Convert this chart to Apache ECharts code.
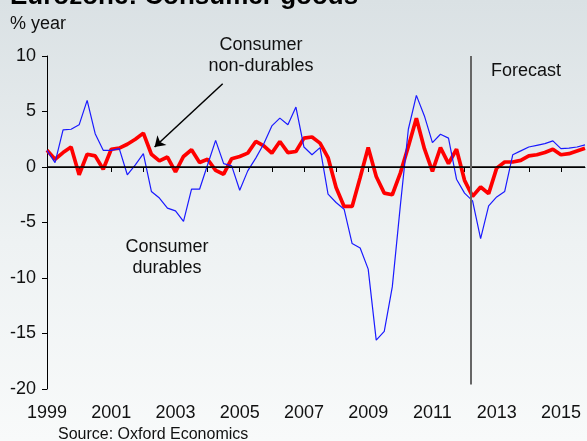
<!DOCTYPE html>
<html>
<head>
<meta charset="utf-8">
<script src="https://cdn.jsdelivr.net/npm/echarts@6/dist/echarts.min.js"></script>
<style>
  html, body { margin: 0; padding: 0; }
  body { background: linear-gradient(to bottom, #dae1e4 0%, #eef2f3 55%, #f8fafa 100%); }
  #chart { width: 587px; height: 441px; }
</style>
</head>
<body>
<div id="chart"></div>
<script>
// quarterly series, 1999Q1 .. 2015Q4 (% year)
var startYear = 1999;
var durables = [
  1.5, 0.4, 3.35, 3.4, 3.8, 6.0, 3.0, 1.5,
  1.5, 1.65, -0.7, 0.2, 1.2, -2.2, -2.8, -3.7,
  -3.95, -4.9, -2.0, -2.0, 0.2, 2.4, 0.3, 0.1,
  -2.1, -0.35, 0.8, 2.1, 3.7, 4.4, 3.8, 5.4,
  1.8, 1.1, 1.75, -2.45, -3.2, -3.8, -6.9, -7.3,
  -9.2, -15.6, -14.8, -10.8, -3.5, 3.4, 6.45, 4.6,
  2.2, 2.95, 2.6, -1.1, -2.35, -3.05, -6.45, -3.5,
  -2.7, -2.2, 1.1, 1.45, 1.8, 1.95, 2.1, 2.35,
  1.65, 1.7, 1.8, 2.0
];
var nonDurables = [
  1.5, 0.7, 1.3, 1.8, -0.7, 1.15, 1.0, -0.2,
  1.6, 1.7, 2.05, 2.5, 3.05, 1.15, 0.55, 0.9,
  -0.45, 0.95, 1.55, 0.4, 0.7, -0.3, -0.65, 0.75,
  0.95, 1.25, 2.3, 1.9, 1.25, 2.3, 1.3, 1.4,
  2.6, 2.7, 2.15, 0.85, -1.85, -3.55, -3.55, -0.95,
  1.75, -0.85, -2.35, -2.5, -0.55, 1.85, 4.4, 1.65,
  -0.4, 1.75, 0.3, 1.6, -1.2, -2.65, -1.8, -2.4,
  -0.1, 0.45, 0.45, 0.6, 1.0, 1.1, 1.3, 1.6,
  1.1, 1.2, 1.45, 1.7
];
var forecastStart = 2012.2;
var yTicks = { min: -20, max: 10, step: 5 };

function toPoints(arr) {
  return arr.map(function (v, i) { return [startYear + i / 4, v]; });
}

var chart = echarts.init(document.getElementById('chart'));
var font = 'Liberation Sans, Arial, sans-serif';

var option = {
  animation: false,
  backgroundColor: 'transparent',
  textStyle: { fontFamily: font, color: '#111' },
  grid: { left: 47, right: 2, top: 56, bottom: 52 },
  xAxis: {
    type: 'value',
    min: startYear,
    max: startYear + (durables.length - 1) / 4,
    interval: 1,
    axisLine: { lineStyle: { color: '#000', width: 1 } },
    axisTick: { show: true, length: 5, lineStyle: { color: '#000' } },
    splitLine: { show: false },
    axisLabel: {
      fontSize: 18, color: '#111', margin: 15, showMaxLabel: false,
      formatter: function (v) { return (Number.isInteger(v) && v % 2 === 1) ? String(v) : ''; }
    }
  },
  yAxis: {
    type: 'value',
    min: yTicks.min, max: yTicks.max, interval: yTicks.step,
    axisLine: { show: true, lineStyle: { color: '#000', width: 1 } },
    axisTick: { show: true, length: 5, lineStyle: { color: '#000' } },
    splitLine: { show: false },
    axisLabel: { fontSize: 18, color: '#111', margin: 11 }
  },
  graphic: [
    { type: 'text', x: 10, y: -16, style: { text: 'Eurozone: Consumer goods', font: 'bold 26px ' + font, fill: '#000' } },
    { type: 'text', x: 10, y: 15, style: { text: '% year', font: '18px ' + font, fill: '#111' } },
    { type: 'text', x: 58, y: 427, style: { text: 'Source: Oxford Economics', font: '16px ' + font, fill: '#111' } },
    { type: 'text', x: 491, y: 62, style: { text: 'Forecast', font: '18px ' + font, fill: '#111' } },
    { type: 'text', x: 261, y: 35, style: { text: 'Consumer\nnon-durables', font: '18px ' + font, fill: '#111', align: 'center', lineHeight: 21 } },
    { type: 'text', x: 167, y: 237, style: { text: 'Consumer\ndurables', font: '18px ' + font, fill: '#111', align: 'center', lineHeight: 21 } }
  ],
  series: [
    {
      name: 'Consumer non-durables',
      type: 'line',
      data: toPoints(nonDurables),
      showSymbol: false,
      clip: false,
      lineStyle: { color: '#ff0000', width: 3.7 },
      itemStyle: { color: '#ff0000' },
      z: 3,
      markLine: {
        silent: true,
        symbol: 'none',
        label: { show: false },
        data: [
          { yAxis: 0, lineStyle: { color: '#000', width: 1.5, type: 'solid' } },
          [
            { coord: [forecastStart, 10], lineStyle: { color: '#666', width: 2, type: 'solid' } },
            { coord: [forecastStart, -19.6] }
          ],
          [
            { coord: [2004.47, 7.5], symbol: 'none', lineStyle: { color: '#000', width: 1.5, type: 'solid' } },
            { coord: [2002.35, 1.8], symbol: 'arrow', symbolSize: 10 }
          ]
        ]
      }
    },
    {
      name: 'Consumer durables',
      type: 'line',
      data: toPoints(durables),
      showSymbol: false,
      lineStyle: { color: '#1a1aff', width: 1.2 },
      itemStyle: { color: '#1a1aff' },
      z: 4
    }
  ]
};
chart.setOption(option);
</script>
</body>
</html>
